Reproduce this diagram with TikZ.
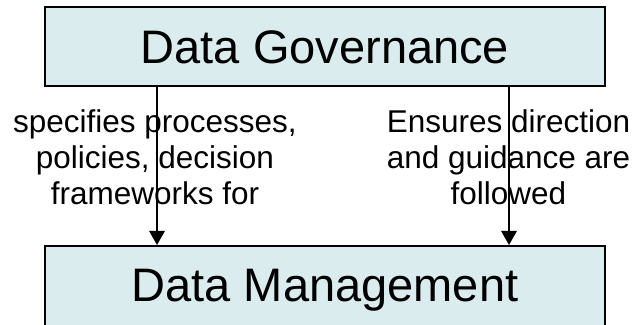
\documentclass[tikz,border=0pt]{standalone}
\usepackage{fontspec}
\setmainfont{Liberation Sans}
\usetikzlibrary{arrows.meta}
\definecolor{boxfill}{RGB}{218,236,238}
\tikzset{
  govbox/.style={draw=black, line width=2pt, fill=boxfill, minimum width=560pt, minimum height=79pt,
    inner sep=0pt, text height=33.8pt, text depth=0pt, font=\fontsize{47}{50}\selectfont},
  flowarrow/.style={line width=1.3pt, -{Triangle[width=15.5pt,length=14pt]}},
  lbl/.style={align=center, inner sep=0pt, anchor=north, font=\fontsize{31.5}{36.3}\selectfont}
}
\begin{document}
\begin{tikzpicture}[x=1pt,y=1pt]
\clip (0,0) rectangle (637,324);
\useasboundingbox (0,0) rectangle (637,324);
\node[govbox] (top) at (325,277.5) {Data Governance};
\node[govbox, minimum height=85pt, text depth=7.4pt] (bot) at (325,35.5) {Data Management};
\coordinate (a1) at (157,160);
\coordinate (a2) at (509,160);
\draw[flowarrow] (top.south -| a1) -- (bot.north -| a1);
\draw[flowarrow] (top.south -| a2) -- (bot.north -| a2);
\node[lbl] (l1) at (155,214.7) {specifies processes,\\policies, decision\\frameworks for};
\node[lbl] (l2) at (508.5,214.7) {Ensures direction\\and guidance are\\followed};
\end{tikzpicture}
\end{document}
